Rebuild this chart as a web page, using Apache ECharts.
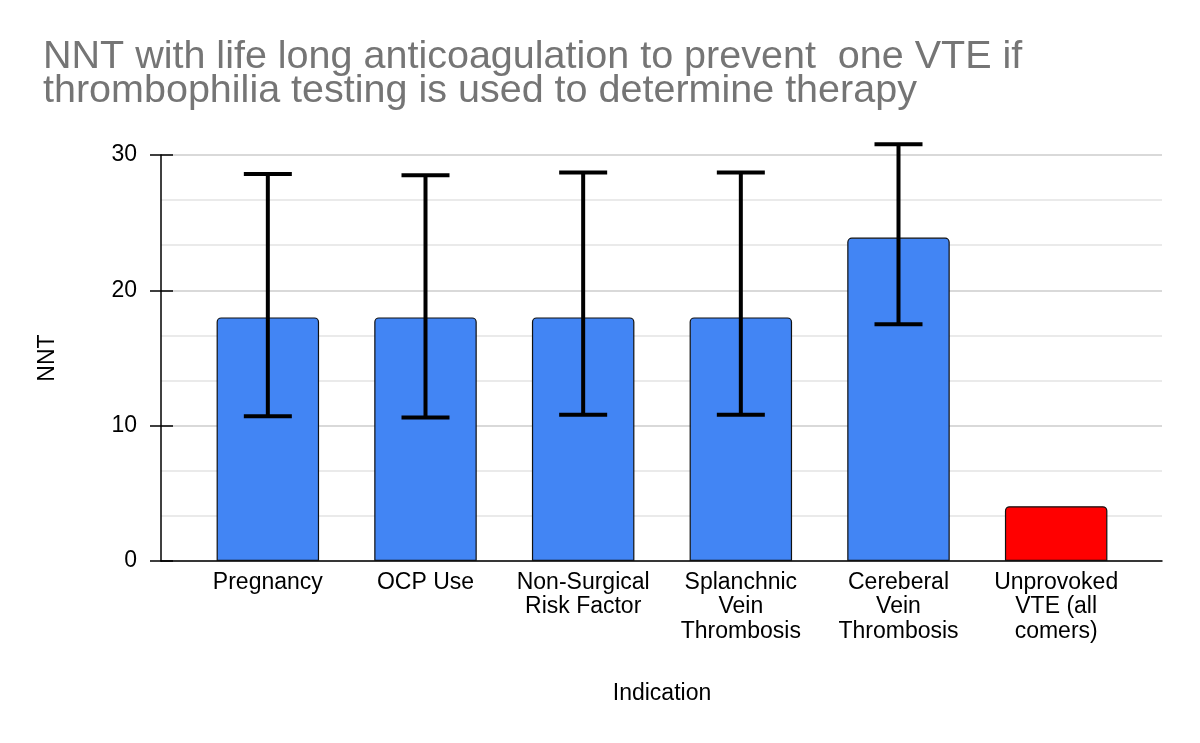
<!DOCTYPE html>
<html>
<head>
<meta charset="utf-8">
<script src="https://cdn.jsdelivr.net/npm/echarts@6/dist/echarts.min.js"></script>
<style>
  html, body { margin: 0; padding: 0; background: #fff; }
  #chart { width: 1200px; height: 743px; }
</style>
</head>
<body>
<div id="chart"></div>
<script>
var categories = ['Pregnancy', 'OCP Use', 'Non-Surgical\nRisk Factor', 'Splanchnic\nVein\nThrombosis', 'Cereberal\nVein\nThrombosis', 'Unprovoked\nVTE (all\ncomers)'];
var nnt = [18, 18, 18, 18, 23.9, 4.05];
var errLow = [10.7, 10.6, 10.8, 10.8, 17.5];
var errHigh = [28.6, 28.5, 28.7, 28.7, 30.8];
var barColors = ['#4285f4', '#4285f4', '#4285f4', '#4285f4', '#4285f4', '#ff0000'];
var yTicks = [0, 10, 20, 30];

var dom = document.getElementById('chart');
var myChart = echarts.init(dom);

var font = '"Liberation Sans", Arial, sans-serif';

var option = {
    animation: false,
    textStyle: { fontFamily: font },
    title: {
        text: 'NNT with life long anticoagulation to prevent  one VTE if\nthrombophilia testing is used to determine therapy',
        left: 38,
        top: 35,
        textStyle: {
            color: '#757575',
            fontSize: 39.5,
            fontWeight: 'normal',
            lineHeight: 34,
            fontFamily: font
        }
    },
    grid: [
        { left: 161, right: 38, top: 155, bottom: 182 },
        { left: 189, right: 65, top: 155, bottom: 182 }
    ],
    xAxis: [
        {
            gridIndex: 0, type: 'value', min: 0, max: 1,
            axisLine: { show: true, lineStyle: { color: '#000', width: 1.5 } },
            axisTick: { show: false }, axisLabel: { show: false }, splitLine: { show: false }
        },
        {
            gridIndex: 1, type: 'category', data: categories,
            axisLine: { show: false }, axisTick: { show: false },
            axisLabel: { color: '#000', fontSize: 23, lineHeight: 24.5, margin: 9, interval: 0, fontFamily: font },
            name: 'Indication', nameLocation: 'middle', nameGap: 121,
            nameTextStyle: { color: '#000', fontSize: 23, fontFamily: font }
        }
    ],
    yAxis: [
        {
            gridIndex: 0, type: 'value', min: 0, max: 30, interval: 10,
            position: 'left',
            name: 'NNT', nameLocation: 'middle', nameGap: 102, nameRotate: 90,
            nameTextStyle: { color: '#000', fontSize: 23, fontFamily: font },
            axisLine: { show: true, lineStyle: { color: '#000', width: 1.5 } },
            axisTick: { show: true, length: 11, lineStyle: { color: '#000', width: 1.5 } },
            axisLabel: { color: '#000', fontSize: 23, margin: 24, fontFamily: font,
                formatter: function (v) { return yTicks.indexOf(v) >= 0 ? v : ''; } },
            splitLine: { show: true, lineStyle: { color: '#cccccc', width: 1.5 } },
            minorTick: { show: false, splitNumber: 3 },
            minorSplitLine: { show: true, lineStyle: { color: '#e3e3e3', width: 1.5 } }
        },
        {
            gridIndex: 0, type: 'value', min: 0, max: 30, interval: 10,
            position: 'left', offset: 0,
            axisLine: { show: false },
            axisTick: { show: true, inside: true, length: 12, lineStyle: { color: '#000', width: 1.5 } },
            axisLabel: { show: false }, splitLine: { show: false }
        },
        {
            gridIndex: 1, type: 'value', min: 0, max: 30, show: false
        }
    ],
    series: [
        {
            type: 'bar',
            xAxisIndex: 1, yAxisIndex: 2,
            barWidth: '65%',
            data: nnt.map(function (v, i) {
                return { value: v, itemStyle: { color: barColors[i] } };
            }),
            itemStyle: { borderColor: '#111', borderWidth: 1.2, borderRadius: [4, 4, 0, 0] },
            z: 3
        },
        {
            type: 'custom',
            xAxisIndex: 1, yAxisIndex: 2,
            data: errLow.map(function (lo, i) { return [i, lo, errHigh[i]]; }),
            renderItem: function (params, api) {
                var idx = api.value(0);
                var lo = api.coord([idx, api.value(1)]);
                var hi = api.coord([idx, api.value(2)]);
                var half = 24;
                var style = { stroke: '#000', lineWidth: 4 };
                return {
                    type: 'group',
                    children: [
                        { type: 'line', shape: { x1: hi[0], y1: hi[1], x2: lo[0], y2: lo[1] }, style: style },
                        { type: 'line', shape: { x1: hi[0] - half, y1: hi[1], x2: hi[0] + half, y2: hi[1] }, style: style },
                        { type: 'line', shape: { x1: lo[0] - half, y1: lo[1], x2: lo[0] + half, y2: lo[1] }, style: style }
                    ]
                };
            },
            z: 5
        }
    ]
};
myChart.setOption(option);
</script>
</body>
</html>
